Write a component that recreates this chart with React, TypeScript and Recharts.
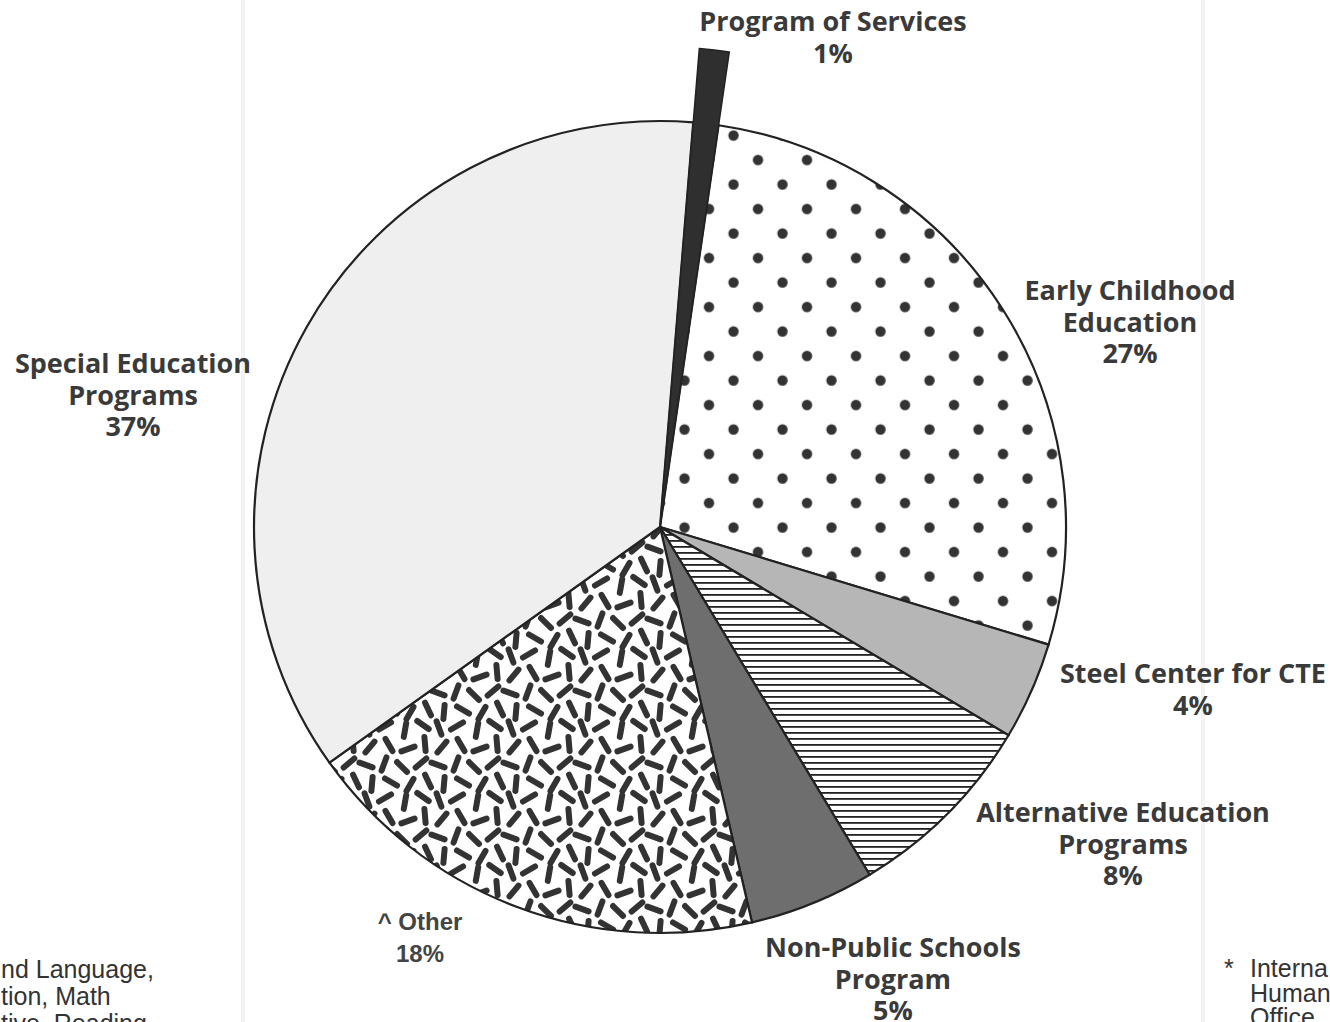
import React from "react";
import { PieChart, Pie, Cell } from "recharts";

// slices, clockwise from the top
const SLICE_NAMES = [
  "Program of Services",
  "Early Childhood\nEducation",
  "Steel Center for CTE",
  "Alternative Education\nPrograms",
  "Non-Public Schools\nProgram",
  "^ Other",
  "Special Education\nPrograms",
];
const SLICE_VALUES = [1.0, 27.4, 3.9, 7.8, 5.0, 18.8, 36.2];
const PCT_LABELS = ["1%", "27%", "4%", "8%", "5%", "18%", "37%"];

const FOOTNOTE_LEFT = ["nd Language,", "tion, Math", "tive, Reading"];
const FOOTNOTE_RIGHT = ["Interna", "Human", "Office"];

const chartData = SLICE_NAMES.map((name, i) => ({
  name,
  value: SLICE_VALUES[i],
  pct: PCT_LABELS[i],
}));

const FILLS = [
  "#2f2f2f",
  "url(#dots)",
  "#b6b6b6",
  "url(#hlines)",
  "#6e6e6e",
  "url(#confetti)",
  "#efefef",
];

// where each label block sits: centre x, first baseline
const LABEL_POS = [
  { x: 833, y: 31 },
  { x: 1130, y: 300 },
  { x: 1193, y: 683 },
  { x: 1123, y: 822 },
  { x: 893, y: 957 },
  { x: 420, y: 930 },
  { x: 133, y: 373 },
];

const CX = 660;
const CY = 527;
const R = 406;
const START = 85.3;

// dashes for the "Other" texture: [x, y, angle]
const DASHES = [
  [7, 8, 70], [25, 6, 150], [45, 10, 100], [63, 5, 35],
  [10, 27, 130], [29, 25, 60], [48, 29, 160], [65, 24, 85],
  [6, 45, 20], [24, 44, 110], [42, 47, 45], [61, 43, 140],
  [12, 64, 95], [31, 62, 30], [50, 65, 120], [68, 61, 65],
];

function Confetti() {
  const T = 72;
  const L = 7;
  const out: any[] = [];
  DASHES.forEach(([x, y, a], i) => {
    const r = (a * Math.PI) / 180;
    const dx = Math.cos(r) * L;
    const dy = Math.sin(r) * L;
    for (const ox of [-T, 0, T]) {
      for (const oy of [-T, 0, T]) {
        out.push(
          <line
            key={`${i}-${ox}-${oy}`}
            x1={x + ox - dx}
            y1={y + oy - dy}
            x2={x + ox + dx}
            y2={y + oy + dy}
            stroke="#333"
            strokeWidth={6}
            strokeLinecap="round"
          />
        );
      }
    }
  });
  return (
    <pattern id="confetti" width={T} height={T} patternUnits="userSpaceOnUse">
      <rect width={T} height={T} fill="#fff" />
      {out}
    </pattern>
  );
}

function renderLabel(props: any) {
  const idx = props.index ?? SLICE_NAMES.indexOf(props.name ?? props.payload?.name);
  const pos = LABEL_POS[idx];
  if (!pos) return null;
  const lines = [...SLICE_NAMES[idx].split("\n"), PCT_LABELS[idx]];
  const isOther = idx === 5;
  return (
    <text
      key={`lbl-${idx}`}
      x={pos.x}
      y={pos.y}
      textAnchor="middle"
      fill={isOther ? "#444" : "#3a3a3a"}
      fontFamily={isOther ? "Liberation Sans, Arial, sans-serif" : "Open Sans, sans-serif"}
      fontWeight={700}
      fontSize={isOther ? 24 : 27}
    >
      {lines.map((l, j) => (
        <tspan key={j} x={pos.x} dy={j === 0 ? 0 : 31.5}>
          {l}
        </tspan>
      ))}
    </text>
  );
}

export default function App() {
  return (
    <div style={{ position: "absolute", left: 0, top: 0, width: 1330, height: 1022, background: "#fff", overflow: "hidden" }}>
      <svg width={1330} height={1022} style={{ position: "absolute", left: 0, top: 0 }}>
        <rect x={241} y={0} width={4} height={1022} fill="#f3f3f3" />
        <rect x={1201} y={0} width={4} height={1022} fill="#f3f3f3" />
        <g fontFamily="Liberation Sans, Arial, sans-serif" fontSize={25} fill="#333">
          {FOOTNOTE_LEFT.map((t, i) => (
            <text key={t} x={1} y={978 + i * 27}>{t}</text>
          ))}
          <text x={1224} y={977}>*</text>
          {FOOTNOTE_RIGHT.map((t, i) => (
            <text key={t} x={1250} y={977 + i * 24.5}>{t}</text>
          ))}
        </g>
      </svg>
      <div style={{ position: "absolute", left: 0, top: 0 }}>
        <PieChart width={1330} height={1022} margin={{ top: 0, right: 0, bottom: 0, left: 0 }}>
          <defs>
            <pattern id="dots" x={10.75} y={0.75} width={49} height={49} patternUnits="userSpaceOnUse">
              <rect width={49} height={49} fill="#fff" />
              <circle cx={12.25} cy={12.25} r={5.2} fill="#333" />
              <circle cx={36.75} cy={36.75} r={5.2} fill="#333" />
            </pattern>
            <pattern id="hlines" width={10} height={6} patternUnits="userSpaceOnUse">
              <rect width={10} height={6} fill="#fff" />
              <rect y={0} width={10} height={1.8} fill="#222" />
            </pattern>
            <Confetti />
          </defs>
          <Pie
            data={chartData}
            dataKey="value"
            nameKey="name"
            cx={CX}
            cy={CY}
            outerRadius={R}
            startAngle={START}
            endAngle={START - 360}
            stroke="#222"
            strokeWidth={2.2}
            label={renderLabel}
            labelLine={false}
            isAnimationActive={false}
          >
            {chartData.map((d, i) => (
              <Cell key={d.name} fill={FILLS[i]} stroke="#222" strokeWidth={2.2} />
            ))}
          </Pie>
          <Pie
            data={chartData}
            dataKey="value"
            nameKey="name"
            cx={CX}
            cy={CY}
            outerRadius={480}
            startAngle={START}
            endAngle={START - 360}
            label={false}
            labelLine={false}
            isAnimationActive={false}
          >
            {chartData.map((d, i) => (
              <Cell
                key={d.name}
                fill={i === 0 ? "#2f2f2f" : "transparent"}
                stroke={i === 0 ? "#222" : "none"}
                strokeWidth={i === 0 ? 1.5 : 0}
              />
            ))}
          </Pie>
        </PieChart>
      </div>
    </div>
  );
}
